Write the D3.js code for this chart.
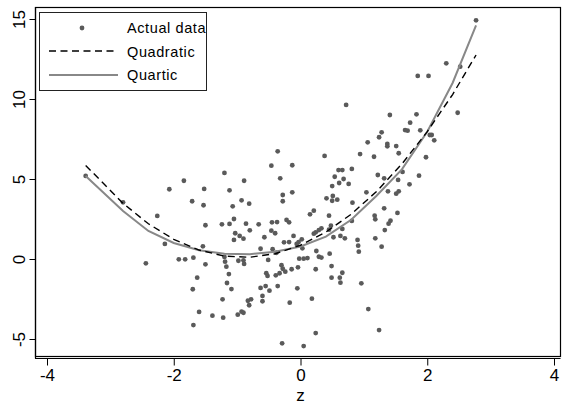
<!DOCTYPE html>
<html>
<head>
<meta charset="utf-8">
<script src="https://cdn.jsdelivr.net/npm/d3@7"></script>
<style>
  body { margin: 0; background: #fff; }
  svg text { font-family: "Liberation Sans", Arial, sans-serif; fill: #000; }
</style>
</head>
<body>
<svg id="chart" width="562" height="404"></svg>
<script>
// scatter points
var actualZ = [-3.39,-2.80,-2.07,-2.26,-2.14,-2.44,-1.92,-0.36,-0.46,-0.13,
  -1.20,-1.84,-0.89,-0.32,-1.52,-1.12,-0.28,-0.13,-1.71,-1.53,
  -0.93,-0.81,-1.07,-0.28,-1.05,-1.24,-1.12,-1.50,-0.86,-0.66,
  -0.45,-0.37,-0.22,-0.18,-0.80,-1.03,-0.96,-0.90,-1.05,-0.46,
  -0.40,-0.57,-0.11,-0.26,-0.18,-0.03,-1.54,-0.63,-0.44,-0.38,
  -1.82,-1.69,-1.20,-1.19,-0.98,-0.90,-0.51,-0.02,-1.50,-1.17,
  -1.13,-1.63,-0.54,-0.52,-0.30,-0.28,-0.24,-0.14,-0.04,-0.39,
  -0.33,-0.89,-1.16,-1.09,-1.70,-0.63,-0.55,-0.49,-0.36,-0.05,
  -1.23,-0.60,-0.60,-0.83,-0.78,-0.81,-0.17,-1.60,-1.39,-1.22,
  -0.99,-0.93,-0.90,-1.69,-0.29,
  0.38,0.94,1.16,1.55,0.60,0.66,0.81,0.54,0.68,0.61,
  0.76,0.50,1.22,1.32,1.61,1.87,1.54,1.72,1.04,1.38,
  1.55,1.51,0.51,0.41,0.58,0.50,0.82,1.32,0.21,0.15,
  0.45,1.17,1.18,1.53,1.42,1.39,0.81,0.48,0.33,0.29,
  0.24,0.21,0.45,0.66,1.33,0.52,0.63,0.70,0.90,1.18,
  0.91,0.92,1.28,0.02,-0.06,0.03,0.25,0.29,0.33,0.46,
  0.05,0.11,0.49,0.24,0.66,0.49,0.62,0.63,0.96,0.18,
  1.07,1.24,0.24,0.05,1.85,2.02,0.72,1.41,1.83,1.73,
  1.65,1.69,1.89,1.28,1.24,1.06,1.37,1.37,1.51,1.98,
  2.77,2.30,2.52,2.48,2.04,2.07,2.11]
var actualY = [5.19,3.54,4.36,2.69,0.94,-0.27,-0.02,6.73,5.83,5.86,
  5.38,4.89,4.89,5.04,4.38,4.29,4.00,4.17,3.61,3.36,
  3.67,3.46,3.29,3.61,2.50,2.17,2.19,2.11,2.21,2.17,
  2.29,2.31,2.44,2.29,1.79,1.61,1.44,1.27,1.19,1.77,
  1.61,1.36,1.44,1.04,1.06,1.06,0.79,0.64,0.61,0.39,
  -0.02,0.08,0.13,-0.17,-0.11,-0.08,-0.06,0.02,-0.33,-0.48,
  -0.94,-1.17,-0.89,-1.06,-0.39,-0.61,-0.79,-0.64,-0.52,-1.02,
  -0.89,-0.31,-1.50,-1.88,-1.89,-1.81,-1.69,-1.98,-1.69,-1.83,
  -2.52,-2.31,-2.64,-2.61,-2.52,-2.89,-2.73,-3.31,-3.54,-3.67,
  -3.48,-3.29,-3.36,-4.13,-5.27,
  6.44,6.56,6.39,6.61,5.56,5.56,5.63,5.14,5.00,4.75,
  4.69,4.56,5.25,5.04,5.44,5.21,4.94,4.67,4.17,4.23,
  4.23,4.08,3.94,3.79,3.71,3.64,3.52,3.17,3.02,2.79,
  2.71,2.71,2.48,2.88,2.39,2.21,2.38,2.08,1.92,1.81,
  1.67,1.58,1.83,1.88,1.81,1.36,1.44,1.29,1.19,1.29,
  0.83,0.46,0.77,1.23,0.94,0.67,0.50,0.14,0.09,0.33,
  0.02,0.06,-0.44,-0.64,-0.86,-1.17,-1.17,-1.48,-1.52,-2.48,
  -3.13,-4.44,-4.63,-5.44,11.44,11.44,9.63,9.00,9.04,8.52,
  8.06,8.02,8.04,7.92,7.61,7.29,7.19,7.04,7.06,6.36,
  14.92,12.23,12.02,9.14,7.75,7.75,7.42]

// fitted curves
var curveZ = [-3.39,-2.8,-2.4,-2.0,-1.6,-1.2,-0.8,-0.4,0,0.4,0.8,1.2,1.6,2.0,2.4,2.77]
var quadY  = [5.85,3.48,2.20,1.23,0.56,0.18,0.11,0.33,0.86,1.68,2.80,4.22,5.94,7.96,10.28,12.75]
var quartY = [5.19,3.00,1.75,1.00,0.55,0.33,0.30,0.45,0.78,1.40,2.45,3.95,5.60,7.95,11.00,14.60]

var xTicks = [-4, -2, 0, 2, 4]
var yTicks = [-5, 0, 5, 10, 15]
var legendLabels = ['Actual data', 'Quadratic', 'Quartic']

var svg = d3.select('#chart')
var frame = { left: 35, right: 560, top: 7, bottom: 356 }

var x = d3.scaleLinear().domain([-4, 4]).range([47, 554])
var y = d3.scaleLinear().domain([-5, 15]).range([339, 19])

// plot frame
svg.append('rect')
  .attr('x', frame.left + 0.5).attr('y', frame.top + 0.5)
  .attr('width', frame.right - frame.left).attr('height', frame.bottom - frame.top)
  .attr('fill', 'none').attr('stroke', '#000').attr('stroke-width', 1.2)

// x axis
var xAxis = svg.append('g')
  .attr('transform', 'translate(0,358.5)')
  .call(d3.axisBottom(x).tickValues(xTicks).tickSize(7).tickPadding(3).tickFormat(d3.format('d')))
xAxis.select('.domain').attr('d', 'M' + frame.left + ',0H' + (frame.right + 0.5)).attr('stroke-width', 1.2)
xAxis.selectAll('text').attr('font-size', 17).attr('font-family', '"Liberation Sans", Arial, sans-serif')
  .attr('dy', '0.71em').text(d => d < 0 ? '-' + Math.abs(d) : d)

// y axis
var yAxis = svg.append('g')
  .attr('transform', 'translate(' + (frame.left + 0.5) + ',0)')
  .call(d3.axisLeft(y).tickValues(yTicks).tickSize(6).tickFormat(d3.format('d')))
yAxis.select('.domain').attr('d', 'M0,' + frame.top + 'V' + (frame.bottom + 2.5)).attr('stroke-width', 1.2)
yAxis.selectAll('text')
  .attr('font-size', 17).attr('font-family', '"Liberation Sans", Arial, sans-serif')
  .attr('text-anchor', 'middle').attr('x', null).attr('dy', null)
  .attr('transform', 'translate(-11,0) rotate(-90)')
  .text(d => d < 0 ? '-' + Math.abs(d) : d)

svg.append('text').text('z')
  .attr('x', x(0)).attr('y', 401)
  .attr('text-anchor', 'middle').attr('font-size', 17)

// points
svg.append('g').selectAll('circle')
  .data(actualZ.map((z, i) => [z, actualY[i]]))
  .enter()
  .append('circle')
  .attr('cx', d => x(d[0]))
  .attr('cy', d => y(d[1]))
  .attr('r', 2.4)
  .attr('fill', '#5a5a5a')

var line = d3.line().x(d => x(d[0])).y(d => y(d[1]))

svg.append('path')
  .datum(curveZ.map((z, i) => [z, quartY[i]]))
  .attr('d', line)
  .attr('fill', 'none').attr('stroke', '#888').attr('stroke-width', 2)

svg.append('path')
  .datum(curveZ.map((z, i) => [z, quadY[i]]))
  .attr('d', line)
  .attr('fill', 'none').attr('stroke', '#000').attr('stroke-width', 1.4)
  .attr('stroke-dasharray', '7,4.5')

// legend
var lg = svg.append('g')
lg.append('rect')
  .attr('x', 39.5).attr('y', 12.5).attr('width', 167).attr('height', 78)
  .attr('fill', '#fff').attr('stroke', '#222').attr('stroke-width', 1)
lg.append('circle').attr('cx', 82).attr('cy', 28).attr('r', 2.4).attr('fill', '#5a5a5a')
lg.append('line').attr('x1', 49).attr('x2', 118).attr('y1', 51).attr('y2', 51)
  .attr('stroke', '#000').attr('stroke-width', 1.4).attr('stroke-dasharray', '7,4.5')
lg.append('line').attr('x1', 49).attr('x2', 118).attr('y1', 75).attr('y2', 75)
  .attr('stroke', '#888').attr('stroke-width', 2)
lg.selectAll('text.lab')
  .data(legendLabels)
  .enter()
  .append('text')
  .attr('class', 'lab')
  .attr('x', 127)
  .attr('y', (d, i) => 33 + i * 23.5)
  .attr('font-size', 14.5)
  .attr('letter-spacing', 0.6)
  .text(d => d)
</script>
</body>
</html>
